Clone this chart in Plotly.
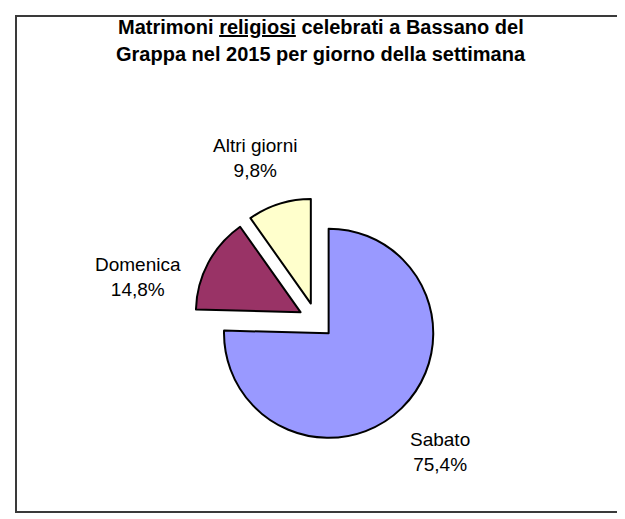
import plotly.graph_objects as go

# Data
categories = ["Sabato", "Domenica", "Altri giorni"]
values = [75.4, 14.8, 9.8]
colors = ["#9999FF", "#993366", "#FFFFCC"]
title_lines = ["Matrimoni <u>religiosi</u> celebrati a Bassano del",
               "Grappa nel 2015 per giorno della settimana"]

W, H = 625, 519

def px(x):
    return x / W

def py(y):
    return 1 - y / H

fig = go.Figure()
fig.add_trace(go.Pie(
    labels=categories,
    values=values,
    sort=False,
    direction="clockwise",
    rotation=0,
    pull=[0.17, 0.17, 0.17],
    marker=dict(colors=colors, line=dict(color="black", width=2)),
    textinfo="none",
    hoverinfo="label+percent",
    showlegend=False,
    domain=dict(x=[0.2973, 0.6890], y=[0.1610, 0.6347]),
))

FONT = "Liberation Sans, Arial, sans-serif"
label_pos = {"Sabato": (432, 444), "Domenica": (130, 269), "Altri giorni": (247, 150)}
annotations = []
for cat, val in zip(categories, values):
    x, y = label_pos[cat]
    annotations.append(dict(
        x=px(x), y=py(y), xref="paper", yref="paper",
        text=f"{cat}<br>{val:.1f}%".replace(".", ","),
        showarrow=False, xanchor="center", yanchor="middle",
        font=dict(family=FONT, size=19, color="black"),
        align="center",
    ))
for line, yy in zip(title_lines, [19, 46]):
    annotations.append(dict(
        x=px(313), y=py(yy), xref="paper", yref="paper",
        text="<b>" + line + "</b>",
        showarrow=False, xanchor="center", yanchor="middle",
        font=dict(family=FONT, size=20, color="black"),
        align="center",
    ))

fig.update_layout(
    width=W, height=H,
    margin=dict(l=0, r=0, t=0, b=0),
    paper_bgcolor="white",
    plot_bgcolor="white",
    annotations=annotations,
    shapes=[dict(type="rect", xref="paper", yref="paper",
                 x0=px(8), x1=px(621), y0=py(504), y1=py(8),
                 line=dict(color="#3a3a3a", width=2))],
)

fig.write_html("out.html")
